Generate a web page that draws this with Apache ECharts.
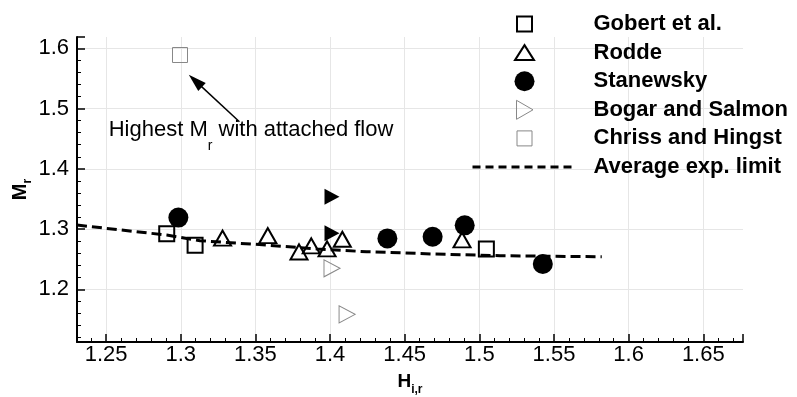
<!DOCTYPE html>
<html><head><meta charset="utf-8">
<script src="https://cdn.jsdelivr.net/npm/echarts@6/dist/echarts.min.js"></script>
<style>html,body{margin:0;padding:0;background:#fff}#c{width:797px;height:397px}</style>
</head><body><div id="c"></div>
<script>
// ---- data ----
const seriesNames = ['Gobert et al.', 'Rodde', 'Stanewsky', 'Bogar and Salmon', 'Chriss and Hingst', 'Average exp. limit'];
const gobertX = [1.2906, 1.3096, 1.5047];
const gobertY = [1.292, 1.273, 1.267];
const roddeX = [1.328, 1.3583, 1.3792, 1.3874, 1.398, 1.4082, 1.4884];
const roddeY = [1.285, 1.289, 1.262, 1.272, 1.267, 1.283, 1.282];
const stanewskyX = [1.2984, 1.4384, 1.4687, 1.4902, 1.5425];
const stanewskyY = [1.319, 1.2845, 1.2872, 1.3061, 1.2419];
const bogarX = [1.4013, 1.4114];
const bogarY = [1.2348, 1.1584];
const bogarFilledX = [1.4013, 1.4013];
const bogarFilledY = [1.3536, 1.2929];
const chrissX = [1.2995];
const chrissY = [1.5889];
const limitX = [1.2305, 1.2906, 1.3129, 1.3576, 1.3911, 1.4246, 1.4469, 1.4692, 1.5139, 1.582];
const limitY = [1.3066, 1.290, 1.2806, 1.2734, 1.267, 1.2623, 1.2607, 1.2585, 1.2557, 1.254];
const annotationText = 'Highest M|r| with attached flow';
const annotationAnchor = [1.2514, 1.4639];
const arrowFrom = [1.3393, 1.4782];
const arrowTo = [1.3098, 1.546];

const zip = (xs, ys) => xs.map((x, i) => [x, ys[i]]);
const FONT = 'Liberation Sans, Arial, Helvetica, sans-serif';
const annParts = annotationText.split('|');
const CLEAR = 'rgba(0,0,0,0)';

const chart = echarts.init(document.getElementById('c'), null, {renderer: 'canvas'});
const sqIcon = 'path://M0,0 M20,20 M2.5,2.5 L17.5,2.5 L17.5,17.5 L2.5,17.5 Z';
const triIcon = 'path://M0,0 M20,20 M10,2.5 L19.5,17.5 L0.5,17.5 Z';
const rtriIcon = 'path://M0,0 M20,20 M2,0.5 L18.5,10 L2,19.5 Z';

chart.setOption({
  animation: false,
  backgroundColor: '#fff',
  grid: {left: 77, right: 54, top: 37, bottom: 55, outerBoundsMode: 'none', containLabel: false},
  legend: {
    orient: 'vertical', left: 471, top: 13, padding: 0,
    itemWidth: 104, itemHeight: 20, itemGap: 6.6,
    selectedMode: false,
    data: [
      {name: seriesNames[0], icon: sqIcon, itemStyle: {color: CLEAR, borderColor: '#000', borderWidth: 2, opacity: 1}},
      {name: seriesNames[1], icon: triIcon, itemStyle: {color: CLEAR, borderColor: '#000', borderWidth: 2, opacity: 1}},
      {name: seriesNames[2], icon: 'circle', itemStyle: {color: '#000', borderWidth: 0, opacity: 1}},
      {name: seriesNames[3], icon: rtriIcon, itemStyle: {color: CLEAR, borderColor: '#888', borderWidth: 1, opacity: 1}},
      {name: seriesNames[4], icon: sqIcon, itemStyle: {color: CLEAR, borderColor: '#888', borderWidth: 1, opacity: 1}},
      {name: seriesNames[5], itemStyle: {color: CLEAR, borderColor: CLEAR, borderWidth: 0, opacity: 0}}
    ],
    lineStyle: {width: 3, type: [8, 5], color: '#000', opacity: 1},
    formatter: '{t|{name}}',
    textStyle: {
      color: '#000', fontSize: 22, fontWeight: 'bold', fontFamily: FONT,
      rich: {t: {padding: [0, 0, 0, 12], fontSize: 22, fontWeight: 'bold', color: '#000', fontFamily: FONT, lineHeight: 21}}
    }
  },
  xAxis: {
    type: 'value', min: 1.2305, max: 1.6766, splitNumber: 9, minInterval: 0.05, maxInterval: 0.05,
    axisLine: {show: true, onZero: false, lineStyle: {color: '#000', width: 2}},
    axisTick: {show: true, inside: true, length: 8, lineStyle: {color: '#000', width: 1.5}},
    minorTick: {show: true, splitNumber: 5, length: 4, lineStyle: {color: '#000', width: 1}},
    axisLabel: {color: '#000', fontSize: 22, fontFamily: FONT, margin: 2, showMinLabel: false, showMaxLabel: false},
    splitLine: {show: true, showMinLine: false, showMaxLine: false, lineStyle: {color: '#e6e6e6', width: 1}},
    name: '{b|H}{s|i,r}', nameLocation: 'middle', nameGap: 26, nameMoveOverlap: false,
    nameTextStyle: {
      rich: {
        b: {fontSize: 19, fontWeight: 'bold', fontFamily: FONT, color: '#000'},
        s: {fontSize: 12, fontWeight: 'bold', fontFamily: FONT, color: '#000', verticalAlign: 'bottom', lineHeight: 28}
      }
    }
  },
  yAxis: {
    type: 'value', min: 1.1125, max: 1.6188, splitNumber: 5, minInterval: 0.1, maxInterval: 0.1,
    axisLine: {show: true, onZero: false, lineStyle: {color: '#000', width: 2}},
    axisTick: {show: true, inside: true, length: 8, lineStyle: {color: '#000', width: 1.5}},
    minorTick: {show: true, splitNumber: 5, length: 4, lineStyle: {color: '#000', width: 1}},
    axisLabel: {color: '#000', fontSize: 22, fontFamily: FONT, margin: 8, showMinLabel: false, showMaxLabel: false},
    splitLine: {show: true, showMinLine: false, showMaxLine: false, lineStyle: {color: '#e6e6e6', width: 1}},
    name: '{b|M}{s|r}', nameLocation: 'middle', nameGap: 43, nameRotate: 90, nameMoveOverlap: false,
    nameTextStyle: {
      rich: {
        b: {fontSize: 20, fontWeight: 'bold', fontFamily: FONT, color: '#000'},
        s: {fontSize: 12, fontWeight: 'bold', fontFamily: FONT, color: '#000', verticalAlign: 'bottom', lineHeight: 28}
      }
    }
  },
  series: [
    {
      name: seriesNames[5], type: 'line', data: zip(limitX, limitY), symbol: 'none', silent: true,
      lineStyle: {color: '#000', width: 3, type: [10, 5], opacity: 1}, itemStyle: {color: '#000'}
    },
    {
      name: seriesNames[0], type: 'scatter', data: zip(gobertX, gobertY), symbol: 'rect', symbolSize: 15, silent: true,
      itemStyle: {color: CLEAR, borderColor: '#000', borderWidth: 2, opacity: 1}
    },
    {
      name: seriesNames[1], type: 'scatter', data: zip(roddeX, roddeY), symbol: 'triangle', symbolSize: [17, 15], silent: true,
      itemStyle: {color: CLEAR, borderColor: '#000', borderWidth: 2, opacity: 1}
    },
    {
      name: seriesNames[2], type: 'scatter', data: zip(stanewskyX, stanewskyY), symbol: 'circle', symbolSize: 20, silent: true,
      itemStyle: {color: '#000', opacity: 1}
    },
    {
      name: seriesNames[3], type: 'scatter', data: zip(bogarX, bogarY), symbol: 'triangle', symbolRotate: -90, symbolSize: [17, 16], silent: true,
      itemStyle: {color: CLEAR, borderColor: '#888', borderWidth: 1, opacity: 1}
    },
    {
      name: seriesNames[3] + ' (filled)', type: 'scatter', data: zip(bogarFilledX, bogarFilledY), symbol: 'triangle', symbolRotate: -90, symbolSize: [16, 15], silent: true,
      itemStyle: {color: '#000', opacity: 1}
    },
    {
      name: seriesNames[4], type: 'scatter', data: zip(chrissX, chrissY), symbol: 'rect', symbolSize: 15, silent: true,
      itemStyle: {color: CLEAR, borderColor: '#888', borderWidth: 1, opacity: 1},
      markLine: {
        silent: true, animation: false,
        lineStyle: {color: '#000', width: 1.5, type: 'solid', opacity: 1},
        label: {show: false},
        data: [[
          {coord: arrowFrom, symbol: 'none', symbolSize: 0},
          {coord: arrowTo, symbol: 'triangle', symbolSize: [11, 18], itemStyle: {color: '#000', opacity: 1}}
        ]]
      },
      markPoint: {
        silent: true, animation: false,
        symbol: 'circle', symbolSize: 1, itemStyle: {color: CLEAR},
        data: [{coord: annotationAnchor}],
        label: {
          show: true, position: 'right', distance: 0,
          formatter: '{a|' + annParts[0] + '}{s|' + annParts[1] + '}{a|' + annParts[2] + '}',
          rich: {
            a: {fontSize: 22, fontFamily: FONT, color: '#000'},
            s: {fontSize: 14, fontFamily: FONT, color: '#000', verticalAlign: 'bottom', lineHeight: 46}
          }
        }
      }
    }
  ]
});
</script>
</body></html>
